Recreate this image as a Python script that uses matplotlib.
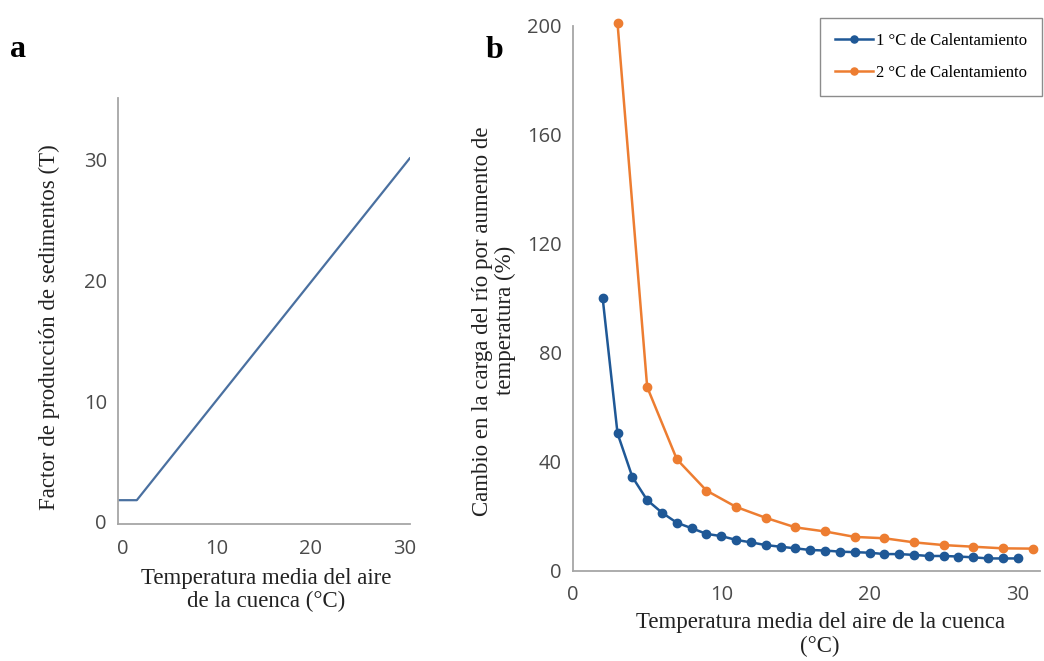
import numpy as np
import matplotlib
matplotlib.use("Agg")
from matplotlib import pyplot as plt

# panel a: sediment production factor vs mean air temperature
temp_a = [-0.5, 1.5, 30.5]
factor_a = [1.8, 1.8, 30.1]

# panel b: change in river load per warming step
temp_1c = list(range(2, 31))
load_1c = [100, 50.5, 34.5, 26, 21.4, 17.7, 15.7, 13.6, 12.8, 11.4,
           10.5, 9.5, 8.9, 8.3, 7.7, 7.5, 7.1, 6.9, 6.7, 6.2,
           6.2, 5.9, 5.5, 5.5, 5.3, 5.0, 4.6, 4.6, 4.6]
temp_2c = list(range(3, 32, 2))
load_2c = [201, 67.5, 41, 29.5, 23.5, 19.5, 16, 14.5, 12.5, 12,
           10.5, 9.5, 8.9, 8.3, 8.2]

serif = "Liberation Serif"
sans = "Open Sans"
tick_col = "#4a4a4a"
spine_col = "#a6a6a6"
lab_col = "#222222"
blue = "#1f5896"
orange = "#ed7d31"
lab_size = 16.5

fig = plt.figure(figsize=(10.44, 6.61), dpi=100)

# ---- panel a ----
ax1 = fig.add_axes([0.113, 0.2073, 0.2797, 0.6445])
ax1.plot(temp_a, factor_a, color="#4a70a0", lw=1.6)
ax1.set_xlim(-0.5, 30.53)
ax1.set_ylim(-0.17, 35.1)
ax1.set_xticks([0, 10, 20, 30])
ax1.set_yticks([0, 10, 20, 30])
ax1.set_xlabel("Temperatura media del aire\nde la cuenca (°C)", fontfamily=serif,
               fontsize=lab_size, color=lab_col, linespacing=1.12)
ax1.xaxis.set_label_coords(0.507, -0.104, transform=ax1.transAxes)
ax1.xaxis.label.set_va("top")
ax1.set_ylabel("Factor de producción de sedimentos (T)", fontfamily=serif,
               fontsize=lab_size, color=lab_col)
ax1.yaxis.set_label_coords(-0.2, 0.462, transform=ax1.transAxes)

# ---- panel b ----
ax2 = fig.add_axes([0.5489, 0.1362, 0.4473, 0.8245])
ax2.plot(temp_1c, load_1c, color=blue, lw=1.8, marker="o", ms=6,
         label="1 °C de Calentamiento", clip_on=False, zorder=3)
ax2.plot(temp_2c, load_2c, color=orange, lw=1.8, marker="o", ms=6,
         label="2 °C de Calentamiento", clip_on=False)
ax2.set_xlim(0, 31.5)
ax2.set_ylim(0, 200)
ax2.set_xticks([0, 10, 20, 30])
ax2.set_yticks([0, 40, 80, 120, 160, 200])
ax2.set_xlabel("Temperatura media del aire de la cuenca\n(°C)", fontfamily=serif,
               fontsize=lab_size, color=lab_col, linespacing=1.2)
ax2.xaxis.set_label_coords(0.529, -0.075, transform=ax2.transAxes)
ax2.xaxis.label.set_va("top")
ax2.set_ylabel("Cambio en la carga del río por aumento de\ntemperatura (%)",
               fontfamily=serif, fontsize=lab_size, color=lab_col,
               linespacing=1.1)
ax2.yaxis.set_label_coords(-0.123, 0.459, transform=ax2.transAxes)

for ax in (ax1, ax2):
    for s in ("top", "right"):
        ax.spines[s].set_visible(False)
    for s in ("left", "bottom"):
        ax.spines[s].set_color(spine_col)
        ax.spines[s].set_linewidth(1.3)
    ax.tick_params(length=0, labelsize=14.5, labelcolor=tick_col, pad=8)
    for lab in ax.get_xticklabels() + ax.get_yticklabels():
        lab.set_fontfamily(sans)

ax1.tick_params(axis="x", pad=11)
ax2.tick_params(axis="x", pad=10)

leg = fig.legend(loc="upper right", bbox_to_anchor=(1042 / 1044, 1 - 18 / 661),
                 prop={"family": serif, "size": 12}, fancybox=False,
                 edgecolor="#8c8c8c", framealpha=1, handlelength=2.3,
                 borderpad=0.9, labelspacing=0.95, handletextpad=0.15,
                 borderaxespad=0, markerscale=0.85)
leg.get_frame().set_linewidth(1.0)

fig.text(0.010, 0.925, "a", fontfamily=serif, fontsize=23, fontweight="bold",
         va="center")
fig.text(0.465, 0.923, "b", fontfamily=serif, fontsize=23, fontweight="bold",
         va="center")

fig.savefig("out.png", dpi=100)
